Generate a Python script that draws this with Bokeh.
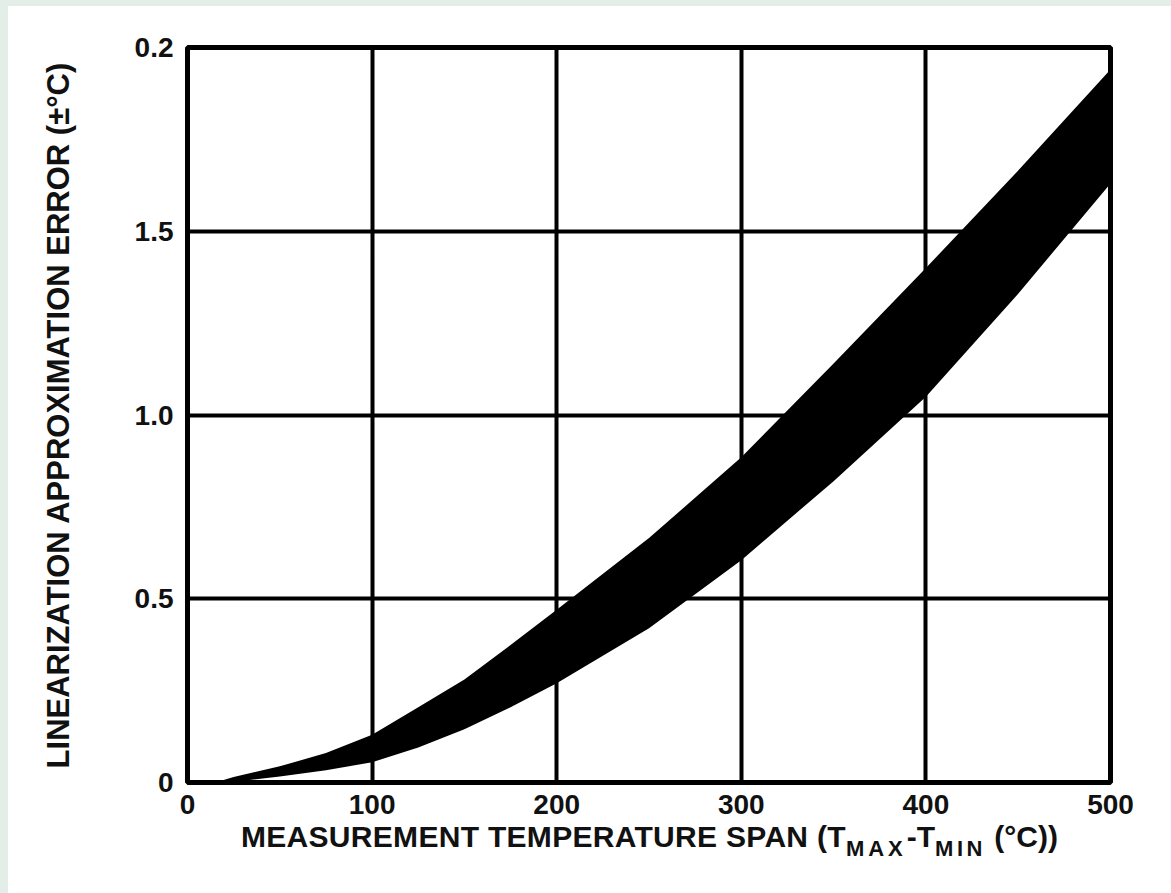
from bokeh.plotting import figure
from bokeh.models import Range1d, FixedTicker, Div, Spacer
from bokeh.layouts import column, row
from bokeh.embed import file_html
from bokeh.resources import INLINE

# ---- data ----
span_c = [15, 25, 50, 75, 100, 125, 150, 175, 200, 250, 300, 350, 400, 450, 500]
err_upper = [0.0, 0.015, 0.044, 0.08, 0.13, 0.205, 0.28, 0.374, 0.47, 0.665, 0.885, 1.14, 1.40, 1.665, 1.94]
err_lower = [0.0, 0.002, 0.016, 0.033, 0.055, 0.095, 0.145, 0.205, 0.27, 0.42, 0.605, 0.82, 1.05, 1.33, 1.63]

x_ticks = [0, 100, 200, 300, 400, 500]
x_tick_labels = ["0", "100", "200", "300", "400", "500"]
y_ticks = [0, 0.5, 1.0, 1.5, 2.0]
y_tick_labels = ["0", "0.5", "1.0", "1.5", "0.2"]

y_title = "LINEARIZATION APPROXIMATION ERROR (±°C)"
x_title_main = "MEASUREMENT TEMPERATURE SPAN (T"
x_title_sub1 = "MAX"
x_title_mid = "-T"
x_title_sub2 = "MIN"
x_title_end = " (°C))"

FONT = "Liberation Sans"
MINT = "#e3eee8"

PAD_L, PAD_T = 8, 6
W = 1171 - PAD_L
H = 822 - PAD_T
BL, BT = 187 - PAD_L, 47 - PAD_T
BR = W - (1110 - PAD_L)
BB = H - (782 - PAD_T)

p = figure(width=W, height=H, output_backend="svg", toolbar_location=None,
           x_range=Range1d(0, 500), y_range=Range1d(0, 2),
           min_border_left=BL, min_border_right=BR, min_border_top=BT, min_border_bottom=BB,
           margin=(0, 0, 0, 0))
p.background_fill_color = "white"
p.border_fill_color = "white"
p.outline_line_color = "black"
p.outline_line_width = 5

p.varea(x=span_c, y1=err_lower, y2=err_upper, fill_color="black")

for ax, ticks, labels in ((p.xaxis[0], x_ticks, x_tick_labels), (p.yaxis[0], y_ticks, y_tick_labels)):
    ax.ticker = FixedTicker(ticks=ticks)
    ax.major_label_overrides = {t: l for t, l in zip(ticks, labels)}
    ax.axis_line_color = None
    ax.major_tick_line_color = None
    ax.minor_tick_line_color = None
    ax.major_tick_in = 0
    ax.major_tick_out = 0
    ax.major_label_text_font = FONT
    ax.major_label_text_font_style = "bold"
    ax.major_label_text_font_size = "28px"
    ax.major_label_text_color = "#111111"
p.xaxis[0].major_label_standoff = 12
p.yaxis[0].major_label_standoff = 14

yax = p.yaxis[0]
yax.axis_label = y_title
yax.axis_label_text_font = FONT
yax.axis_label_text_font_style = "bold"
yax.axis_label_text_font_size = "31px"
yax.axis_label_text_color = "#111111"
yax.axis_label_standoff = 56

p.xgrid.ticker = FixedTicker(ticks=x_ticks)
p.ygrid.ticker = FixedTicker(ticks=y_ticks)
for g in (p.xgrid[0], p.ygrid[0]):
    g.grid_line_color = "black"
    g.grid_line_width = 4
    g.grid_line_alpha = 1.0

DIV_H = 893 - 822
sub_style = "font-size:22px; vertical-align:-9px; letter-spacing:{}px;"
html = (
    f'<div style="box-sizing:border-box; width:1171px; height:{DIV_H}px; '
    f'border-left:{PAD_L}px solid {MINT}; background:white; '
    f'padding-left:{241 - PAD_L}px; white-space:nowrap; font-family:\'{FONT}\'; '
    f'font-weight:bold; font-size:30px; line-height:30px; color:#111111;">'
    f'<span style="letter-spacing:0.3px;">{x_title_main}</span>'
    f'<span style="{sub_style.format(4)}">{x_title_sub1}</span>'
    f'<span>{x_title_mid}</span>'
    f'<span style="{sub_style.format(3.5)}">{x_title_sub2}</span>'
    f'<span style="white-space:pre;">{x_title_end}</span>'
    f'</div>'
)
xlabel = Div(text=html, width=1171, height=DIV_H, margin=(0, 0, 0, 0))

left_strip = Spacer(width=PAD_L, height=822, margin=(0, 0, 0, 0),
                    styles={"background-color": MINT})
top_strip = Spacer(width=W, height=PAD_T, margin=(0, 0, 0, 0),
                   styles={"background-color": MINT})

layout = column(row(left_strip, column(top_strip, p, spacing=0), spacing=0),
                xlabel, spacing=0)

open("out.html", "w").write(file_html(layout, INLINE))
